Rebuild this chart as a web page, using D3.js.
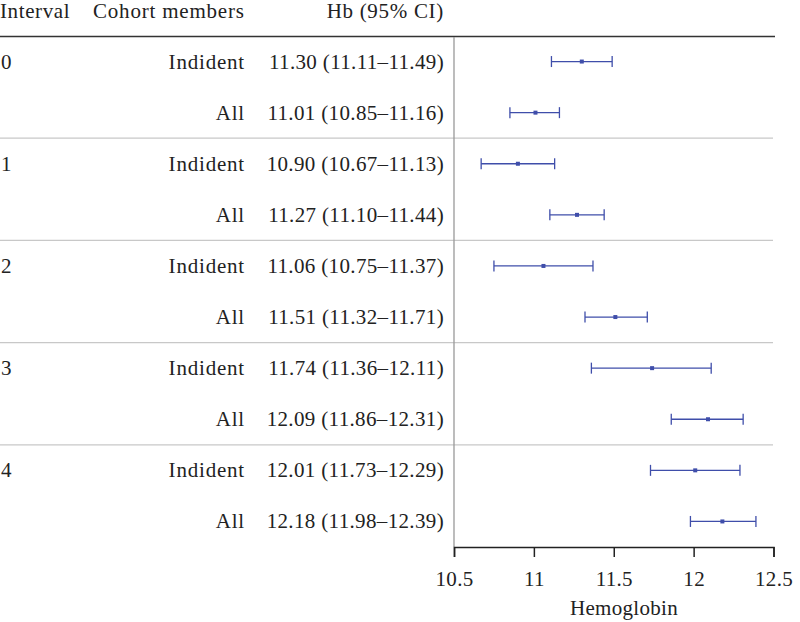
<!DOCTYPE html>
<html><head><meta charset="utf-8">
<script src="https://cdn.jsdelivr.net/npm/d3@7"></script>
<style>body{margin:0;background:#fff}svg text{font-family:"Liberation Serif","Tinos","Times New Roman","Noto Serif","DejaVu Serif",serif;fill:#222}</style>
</head><body><svg id="c" width="800" height="622"></svg>
<script>
const intervals = ["0","0","1","1","2","2","3","3","4","4"];
const cohorts = ["Indident","All","Indident","All","Indident","All","Indident","All","Indident","All"];
const means = [11.30,11.01,10.90,11.27,11.06,11.51,11.74,12.09,12.01,12.18];
const lows  = [11.11,10.85,10.67,11.10,10.75,11.32,11.36,11.86,11.73,11.98];
const highs = [11.49,11.16,11.13,11.44,11.37,11.71,12.11,12.31,12.29,12.39];
const ticks = [10.5,11,11.5,12,12.5];

const svg = d3.select("#c");
const fs = 21;
const x = d3.scaleLinear().domain([10.5,12.5]).range([454,773.5]);
const y = d3.scaleBand().domain(d3.range(10)).range([36,547]);
const yc = i => y(i) + y.bandwidth()/2;
const f2 = d3.format(".2f");
const blue = "#3f4eaa";

function txt(xp, yp, s, anchor, ls){
  return svg.append("text").attr("x",xp).attr("y",yp).attr("font-size",fs)
    .attr("text-anchor",anchor||"start").attr("letter-spacing",ls||0).text(s);
}

// header
txt(0,17.5,"Interval","start",0.6);
txt(93,17.5,"Cohort members","start",0.8);
txt(444,17.5,"Hb (95% CI)","end",0.7);
svg.append("line").attr("x1",0).attr("x2",775).attr("y1",36.5).attr("y2",36.5).attr("stroke","#333").attr("stroke-width",1.5);

// separators
[2,4,6,8].forEach(i=>{
  svg.append("line").attr("x1",0).attr("x2",773).attr("y1",y(i)).attr("y2",y(i)).attr("stroke","#c8c8c8").attr("stroke-width",1.2);
});

// vertical reference line
svg.append("line").attr("x1",454).attr("x2",454).attr("y1",37).attr("y2",547).attr("stroke","#999").attr("stroke-width",1.3);

const rows = svg.append("g").selectAll("g").data(d3.range(10)).join("g");
const rt = sel => sel.attr("font-size",fs);
rows.filter(i=>i%2===0).append("text").attr("x",1).attr("y",i=>yc(i)+7).call(rt).text(i=>intervals[i]);
rows.append("text").attr("x",245).attr("y",i=>yc(i)+7).call(rt).attr("text-anchor","end").attr("letter-spacing",0.8).text(i=>cohorts[i]);
rows.append("text").attr("x",444).attr("y",i=>yc(i)+7).call(rt).attr("text-anchor","end").attr("letter-spacing",0.35)
  .text(i=>`${f2(means[i])} (${f2(lows[i])}\u2013${f2(highs[i])})`);
rows.append("line").attr("x1",i=>x(lows[i])).attr("x2",i=>x(highs[i])).attr("y1",yc).attr("y2",yc).attr("stroke",blue).attr("stroke-width",1.3);
rows.append("line").attr("x1",i=>x(lows[i])).attr("x2",i=>x(lows[i])).attr("y1",i=>yc(i)-5.5).attr("y2",i=>yc(i)+5.5).attr("stroke",blue).attr("stroke-width",1.3);
rows.append("line").attr("x1",i=>x(highs[i])).attr("x2",i=>x(highs[i])).attr("y1",i=>yc(i)-5.5).attr("y2",i=>yc(i)+5.5).attr("stroke",blue).attr("stroke-width",1.3);
rows.append("rect").attr("x",i=>x(means[i])-2).attr("y",i=>yc(i)-2).attr("width",4).attr("height",4).attr("fill",blue);

// axis
const ax = svg.append("g").attr("transform","translate(0,547)")
  .call(d3.axisBottom(x).tickValues(ticks).tickFormat(d3.format("")).tickSize(10).tickPadding(14));
ax.attr("font-family",null);
ax.select(".domain").attr("stroke","#222").attr("stroke-width",1.5);
ax.selectAll(".tick line").attr("stroke","#222").attr("stroke-width",1.5);
ax.selectAll(".tick text").attr("font-size",fs).attr("fill","#222").attr("letter-spacing",0.3);
txt(624,615,"Hemoglobin","middle",0.3);
</script></body></html>
